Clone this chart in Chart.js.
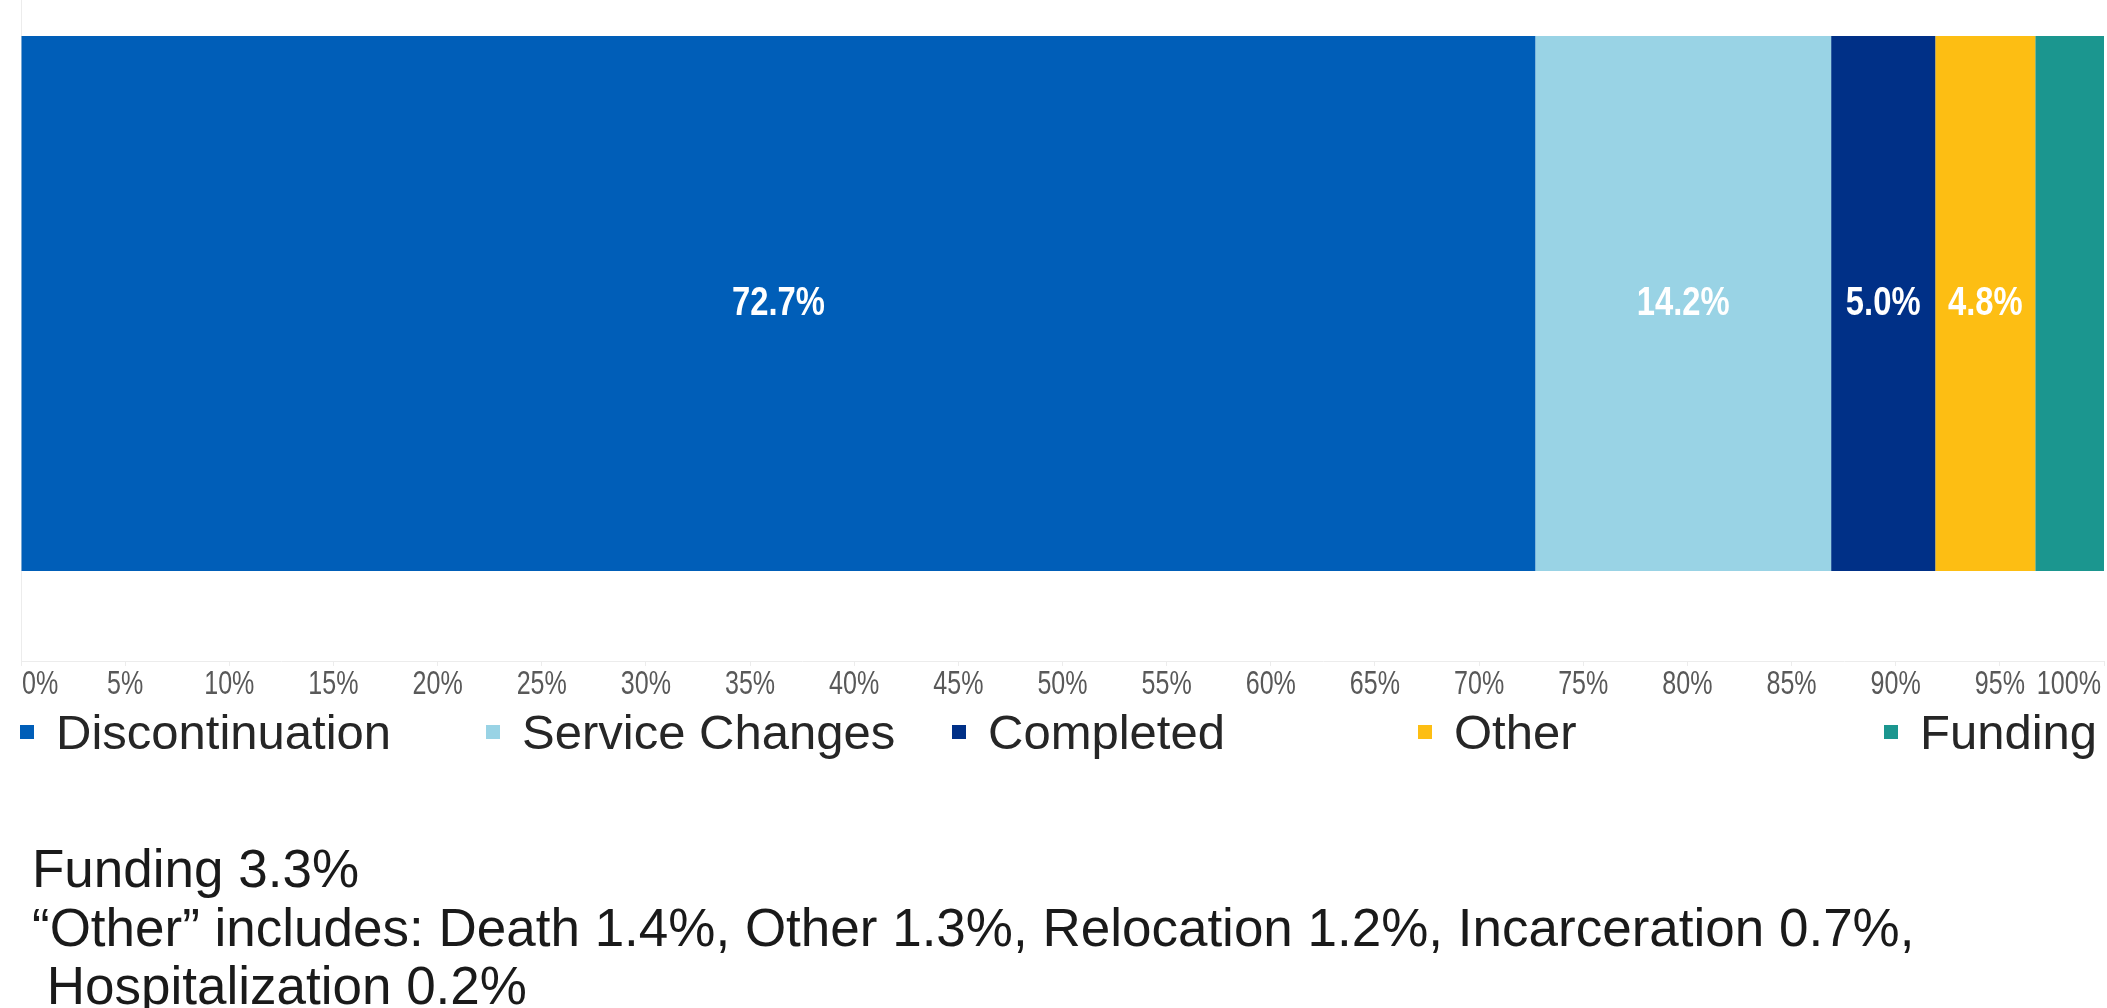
<!DOCTYPE html>
<html>
<head>
<meta charset="utf-8">
<script src="https://cdn.jsdelivr.net/npm/chart.js@4.4.1/dist/chart.umd.min.js"></script>
<style>
  html, body { margin: 0; padding: 0; background: #fff; }
  body { width: 2107px; height: 1008px; overflow: hidden; position: relative; font-family: 'Liberation Sans', Arial, sans-serif; }
  #wrap { position: absolute; left: 0; top: -80px; width: 2107px; height: 800px; }
  #legend { position: absolute; left: 20px; top: 702px; height: 60px; display: flex; }
  .item { width: 466px; display: flex; align-items: center; font-size: 49px; line-height: 60px; color: #262626; white-space: nowrap; }
  .item span.box { width: 14px; height: 14px; margin-right: 22px; flex: none; }
  #note { position: absolute; left: 32px; top: 840px; font-size: 53px; line-height: 58.5px; color: #1a1a1a; white-space: pre; }
</style>
</head>
<body>
<div id="wrap"><canvas id="chart"></canvas></div>
<div id="legend"></div>
<div id="note">Funding 3.3%
“Other” includes: Death 1.4%, Other 1.3%, Relocation 1.2%, Incarceration 0.7%,
 Hospitalization 0.2%</div>
<script>
'use strict'

const categories = [''];
const seriesNames = ['Discontinuation', 'Service Changes', 'Completed', 'Other', 'Funding'];
const seriesValues = [72.7, 14.2, 5.0, 4.8, 3.3];
const seriesColors = ['#005EB8', '#99D3E5', '#003087', '#FDBE13', '#1B968F'];
const showValue = [true, true, true, true, false];
const tickValues = [0, 5, 10, 15, 20, 25, 30, 35, 40, 45, 50, 55, 60, 65, 70, 75, 80, 85, 90, 95, 100];

// condensed text, drawn squeezed horizontally
function narrowText(ctx, text, x, y, font, color, align, squeeze) {
  ctx.save();
  ctx.font = font;
  ctx.fillStyle = color;
  ctx.textBaseline = 'middle';
  ctx.textAlign = align;
  ctx.translate(x, y);
  ctx.scale(squeeze, 1);
  ctx.fillText(text, 0, 0);
  ctx.restore();
}

const labelPlugin = {
  id: 'labels',
  afterDraw(chart) {
    let ctx = chart.ctx;
    // value labels inside the bars
    chart.data.datasets.forEach((ds, i) => {
      if(!showValue[i]) return;
      let bar = chart.getDatasetMeta(i).data[0];
      let p = bar.getCenterPoint();
      narrowText(ctx, ds.data[0].toFixed(1) + '%', p.x, p.y, 'bold 41px "Liberation Sans", Arial', '#ffffff', 'center', 0.8);
    });
    // x tick labels
    let xs = chart.scales.x;
    let y = chart.chartArea.bottom + 24;
    xs.ticks.forEach((t, i) => {
      let x = xs.getPixelForTick(i);
      let align = 'center';
      if(i === 0) { align = 'left'; x += 1; }
      if(i === xs.ticks.length - 1) { align = 'right'; x -= 3; }
      narrowText(ctx, t.value + '%', x, y, '33px "Liberation Sans", Arial', '#595959', align, 0.76);
    });
  }
};

let datasets = seriesNames.map((name, i) => ({
  label: name,
  data: [seriesValues[i]],
  backgroundColor: seriesColors[i],
  borderWidth: 0,
  categoryPercentage: 1,
  barPercentage: 0.748
}));

new Chart(document.getElementById('chart'), {
  type: 'bar',
  data: { labels: categories, datasets: datasets },
  plugins: [labelPlugin],
  options: {
    indexAxis: 'y',
    responsive: true,
    maintainAspectRatio: false,
    animation: false,
    layout: { padding: { top: 26, left: 13, right: 3, bottom: 54 } },
    plugins: { legend: { display: false }, tooltip: { enabled: false } },
    scales: {
      x: {
        type: 'linear',
        stacked: true,
        min: 0, max: 100,
        afterBuildTicks: (scale) => { scale.ticks = tickValues.map(v => ({ value: v })); },
        ticks: { display: false },
        grid: { drawOnChartArea: false, drawTicks: true, tickLength: 5, color: '#ececec' },
        border: { color: '#ececec' }
      },
      y: {
        stacked: true,
        ticks: { display: false },
        grid: { display: false },
        border: { color: '#ececec' }
      }
    }
  }
});

let legend = document.getElementById('legend');
seriesNames.forEach((name, i) => {
  let div = document.createElement('div');
  div.className = 'item';
  div.innerHTML = `<span class="box" style="background:${seriesColors[i]}"></span>${name}`;
  legend.appendChild(div);
});
</script>
</body>
</html>
